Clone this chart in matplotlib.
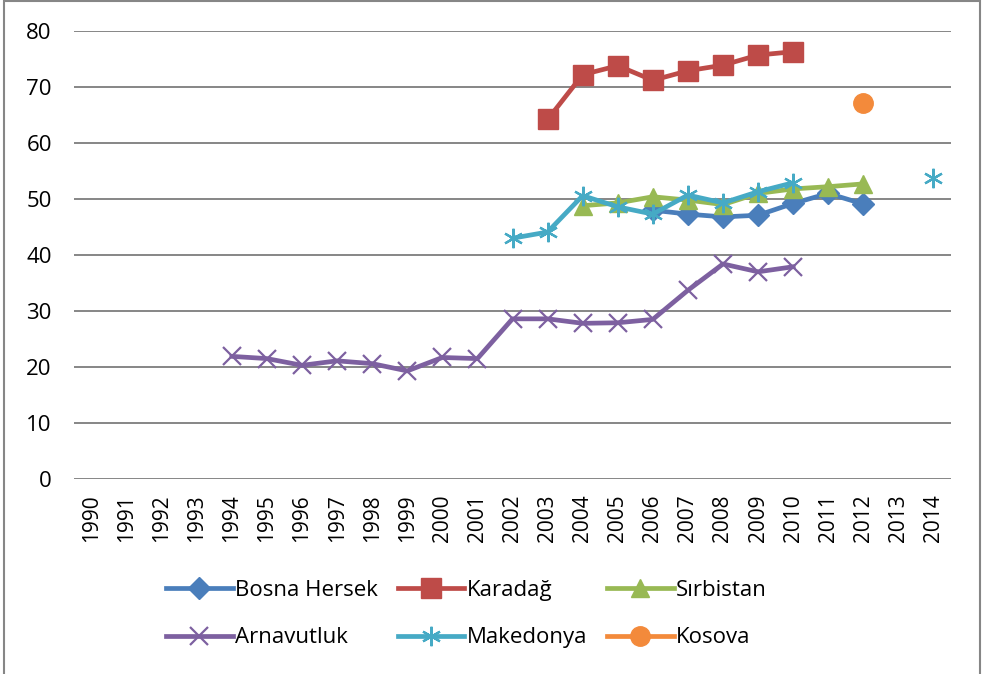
import numpy as np
import matplotlib
matplotlib.use("Agg")
import matplotlib.pyplot as plt
from matplotlib.patches import Rectangle

plt.rcParams['font.family'] = ['Open Sans', 'DejaVu Sans']

# yillar (kategori ekseni)
years = [str(y) for y in range(1990, 2015)]
nan = np.nan

# seriler (1990..2014)
bosna = [nan]*16 + [48.0, 47.3, 46.8, 47.1, 49.2, 51.0, 49.1, nan, nan]
karadag = [nan]*13 + [64.2, 72.2, 73.8, 71.2, 72.9, 73.9, 75.7, 76.3, nan, nan, nan, nan]
sirbistan = [nan]*14 + [48.8, 49.3, 50.4, 49.8, 49.0, 51.0, 51.8, 52.2, 52.7, nan, nan]
arnavutluk = [nan]*4 + [21.9, 21.5, 20.3, 21.1, 20.6, 19.3, 21.7, 21.5,
                        28.6, 28.6, 27.8, 27.9, 28.5, 33.7, 38.4, 37.0, 37.9,
                        nan, nan, nan, nan]
makedonya = [nan]*12 + [43.0, 44.1, 50.6, 48.6, 47.3, 50.7, 49.3, 51.3, 52.9,
                        nan, nan, nan, 53.7]
kosova = [nan]*22 + [67.2, nan, nan]

x = np.arange(len(years))

fig = plt.figure(figsize=(9.82, 6.74), dpi=100)
ax = fig.add_axes([74/982, 1-479/674, (951-74)/982, (479-31)/674])

lw = 3.4
ax.plot(x, bosna, color='#4A7EBB', lw=lw, marker='D', ms=11, label='Bosna Hersek')
ax.plot(x, karadag, color='#BE4B48', lw=lw, marker='s', ms=14, label='Karadağ')
ax.plot(x, sirbistan, color='#98B954', lw=lw, marker='^', ms=13, label='Sırbistan')
ax.plot(x, arnavutluk, color='#7D60A0', lw=lw, marker='x', ms=13, mew=1.6, label='Arnavutluk')
ax.plot(x, makedonya, color='#46AAC5', lw=lw, marker=(6, 2, 0), ms=14, mew=1.6, label='Makedonya')
ax.plot(x, kosova, color='#F38A3B', lw=lw, marker='o', ms=14, label='Kosova')

ax.set_xlim(-0.5, len(years)-0.5)
ax.set_ylim(0, 80)
ax.set_yticks(range(0, 81, 10))
ax.set_xticks(x)
ax.set_xticklabels(years, rotation=90, fontsize=15)
ax.tick_params(axis='y', labelsize=16, length=0, pad=16)
ax.tick_params(axis='x', length=0, pad=11)
ax.grid(axis='y', color='#868686', lw=1.4)
ax.set_axisbelow(True)
for s in ax.spines.values():
    s.set_visible(False)

# lejant: satir satir dizilsin diye sira degistirildi
h, l = ax.get_legend_handles_labels()
order = [0, 3, 1, 4, 2, 5]
fig.legend([h[i] for i in order], [l[i] for i in order], ncol=3, loc='center',
           bbox_to_anchor=(0.475, 0.089), frameon=False, fontsize=16,
           handlelength=3.0, handletextpad=0.1, columnspacing=0.9, labelspacing=1.2)

# dis cerceve
fig.patches.append(Rectangle((4/982, -0.1), 976/982, 1.1 - 1.5/674, transform=fig.transFigure,
                             fill=False, edgecolor='#868686', lw=1.5))

fig.savefig('out.png', dpi=100)
